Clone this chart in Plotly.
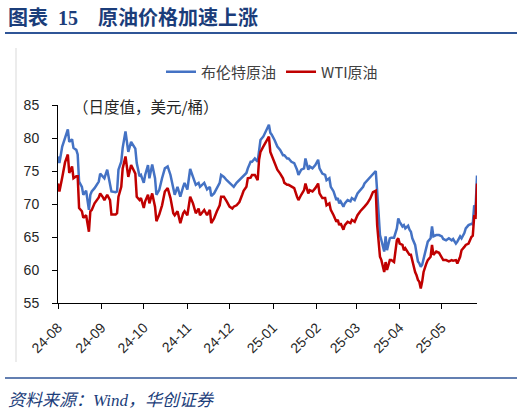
import plotly.graph_objects as go

# data (USD/bbl, daily)
dates = [
    "2024-08-19", "2024-08-20", "2024-08-22", "2024-08-24", "2024-08-26", "2024-08-27",
    "2024-08-29", "2024-08-30", "2024-09-01", "2024-09-02", "2024-09-03", "2024-09-05",
    "2024-09-06", "2024-09-08", "2024-09-10", "2024-09-11", "2024-09-12", "2024-09-14",
    "2024-09-17", "2024-09-18", "2024-09-20", "2024-09-21", "2024-09-23", "2024-09-25",
    "2024-09-26", "2024-09-29", "2024-09-30", "2024-10-01", "2024-10-03", "2024-10-04",
    "2024-10-06", "2024-10-08", "2024-10-10", "2024-10-13", "2024-10-14", "2024-10-16",
    "2024-10-17", "2024-10-19", "2024-10-20", "2024-10-22", "2024-10-23", "2024-10-25",
    "2024-10-27", "2024-10-28", "2024-10-30",
    "2024-11-01", "2024-11-03", "2024-11-05", "2024-11-07", "2024-11-09", "2024-11-10",
    "2024-11-12", "2024-11-14", "2024-11-16", "2024-11-17", "2024-11-19", "2024-11-21",
    "2024-11-23", "2024-11-25", "2024-11-27", "2024-11-28", "2024-12-01", "2024-12-03",
    "2024-12-05", "2024-12-06", "2024-12-08", "2024-12-10", "2024-12-12", "2024-12-13",
    "2024-12-15", "2024-12-17", "2024-12-19", "2024-12-21", "2024-12-22", "2024-12-24",
    "2024-12-26", "2024-12-28", "2024-12-29", "2024-12-31", "2025-01-01", "2025-01-03",
    "2025-01-04", "2025-01-06", "2025-01-08", "2025-01-09", "2025-01-10", "2025-01-12",
    "2025-01-14", "2025-01-16",
    "2025-01-17", "2025-01-18", "2025-01-20", "2025-01-22", "2025-01-24", "2025-01-26",
    "2025-01-27", "2025-01-29", "2025-01-30", "2025-02-01", "2025-02-03", "2025-02-05",
    "2025-02-06", "2025-02-08", "2025-02-10", "2025-02-11", "2025-02-13", "2025-02-14",
    "2025-02-16", "2025-02-18", "2025-02-20", "2025-02-21", "2025-02-23", "2025-02-25",
    "2025-02-26", "2025-02-28", "2025-03-01", "2025-03-03", "2025-03-05", "2025-03-06",
    "2025-03-07", "2025-03-08", "2025-03-10", "2025-03-11", "2025-03-13", "2025-03-15",
    "2025-03-16", "2025-03-18", "2025-03-20", "2025-03-22", "2025-03-24", "2025-03-25",
    "2025-03-27", "2025-03-29",
    "2025-03-31", "2025-04-02", "2025-04-03", "2025-04-05", "2025-04-06", "2025-04-08",
    "2025-04-09", "2025-04-10", "2025-04-12", "2025-04-13", "2025-04-15", "2025-04-17",
    "2025-04-18", "2025-04-19", "2025-04-21", "2025-04-22", "2025-04-23", "2025-04-25",
    "2025-04-26", "2025-04-27", "2025-04-28", "2025-04-30", "2025-05-01", "2025-05-02",
    "2025-05-03", "2025-05-04", "2025-05-05", "2025-05-06", "2025-05-08", "2025-05-09",
    "2025-05-11", "2025-05-12", "2025-05-13", "2025-05-15", "2025-05-17", "2025-05-19",
    "2025-05-20", "2025-05-22", "2025-05-24", "2025-05-26", "2025-05-27", "2025-05-29",
    "2025-05-30", "2025-06-01", "2025-06-02", "2025-06-04", "2025-06-05", "2025-06-07",
    "2025-06-09", "2025-06-10", "2025-06-11", "2025-06-12", "2025-06-13",
]

brent = [
    77.2, 76.2, 78.7, 79.9, 81.3, 79.4, 79.8, 78.5, 78.2, 77.5, 73.4, 72.6,
    71.4, 72.0, 69.1, 71.4, 71.9, 72.4, 73.4, 74.6, 74.1, 73.9, 75.2, 73.1,
    71.9, 71.8, 71.9, 75.2, 76.4, 78.5, 81.0, 77.9, 79.4, 78.4, 76.2, 74.2,
    74.4, 73.2, 74.4, 75.9, 73.9, 76.0, 73.9, 71.4, 72.1,
    73.9, 75.4, 75.7, 74.4, 72.4, 71.4, 72.6, 71.1, 72.6, 73.2, 72.2, 75.3,
    74.1, 72.9, 73.2, 72.6, 73.2, 72.2, 72.6, 71.2, 71.6, 72.4, 73.2, 74.4,
    74.1, 73.6, 73.2, 72.9, 72.6, 73.2, 73.6, 74.1, 74.3, 74.7, 75.4, 76.4,
    76.4, 76.9, 76.4, 78.2, 79.7, 80.2, 81.0, 82.0,
    80.8, 80.5, 79.7, 78.7, 78.2, 77.4, 77.4, 76.9, 76.9, 76.4, 76.2, 75.2,
    74.4, 75.2, 75.4, 76.9, 75.2, 75.7, 75.4, 75.9, 76.7, 75.4, 74.6, 74.4,
    73.6, 73.9, 72.6, 71.9, 70.6, 70.9, 70.1, 70.4, 69.6, 70.1, 70.6, 70.4,
    70.9, 70.6, 71.6, 72.1, 72.6, 73.1, 73.6, 74.1,
    74.6, 75.0, 71.9, 65.3, 64.5, 62.8, 65.1, 63.0, 64.8, 64.9, 64.9, 66.3,
    67.8, 67.3, 66.6, 66.8, 66.3, 66.7, 66.1, 65.8, 64.8, 63.8, 62.5, 61.3,
    61.0, 60.5, 60.8, 61.8, 63.3, 64.3, 64.8, 66.6, 65.1, 65.3, 65.3, 65.1,
    64.7, 64.5, 64.8, 64.5, 64.7, 64.0, 64.3, 65.1, 64.8, 65.6, 66.3, 66.8,
    67.0, 66.9, 69.8, 69.4, 74.3,
]

wti = [
    73.1, 71.9, 74.0, 76.3, 77.5, 74.7, 75.7, 73.9, 74.2, 74.2, 69.4, 68.9,
    67.9, 68.3, 65.8, 68.9, 69.1, 70.1, 71.0, 71.6, 71.0, 70.6, 71.4, 70.6,
    68.4, 68.4, 68.6, 71.1, 72.6, 75.4, 77.2, 74.1, 75.9, 74.6, 71.1, 70.6,
    70.9, 69.4, 70.4, 71.4, 70.1, 71.6, 69.6, 67.4, 68.4,
    69.8, 71.9, 72.4, 70.9, 68.6, 68.3, 68.9, 67.1, 68.6, 68.9, 68.3, 71.1,
    70.1, 68.6, 69.3, 68.3, 69.1, 68.3, 69.1, 67.1, 67.8, 68.9, 69.8, 71.1,
    71.1, 70.4, 69.6, 69.3, 69.6, 69.8, 70.3, 71.4, 72.0, 72.6, 73.9, 74.0,
    74.4, 74.4, 73.6, 76.7, 77.9, 78.7, 79.4, 80.2,
    77.9, 77.4, 76.4, 75.2, 74.6, 73.9, 73.2, 72.9, 72.9, 72.6, 72.4, 71.1,
    70.6, 71.4, 72.1, 73.1, 71.6, 72.1, 71.9, 72.4, 73.1, 71.6, 70.9, 70.9,
    69.8, 70.1, 69.1, 68.3, 67.3, 67.6, 66.8, 67.1, 66.1, 66.8, 67.3, 67.1,
    67.6, 67.3, 68.3, 68.9, 69.3, 69.6, 70.1, 70.8,
    71.8, 72.0, 66.8, 62.0, 61.5, 59.7, 61.2, 60.0, 61.5, 61.5, 61.2, 64.5,
    64.8, 64.0, 63.8, 63.0, 63.3, 62.7, 62.3, 62.3, 61.3, 59.7, 59.2, 58.5,
    58.2, 57.2, 58.2, 59.7, 61.0, 61.5, 62.0, 63.8, 62.3, 62.8, 62.6, 61.8,
    61.5, 61.5, 61.3, 61.5, 61.4, 61.5, 61.0, 62.0, 63.0, 63.5, 63.8, 64.0,
    65.0, 65.2, 68.1, 68.0, 73.1,
]

tick_dates = [
    "2024-08-19", "2024-09-19", "2024-10-19", "2024-11-19", "2024-12-19",
    "2025-01-19", "2025-02-19", "2025-03-19", "2025-04-19", "2025-05-19",
]
tick_labels = ["24-08", "24-09", "24-10", "24-11", "24-12",
               "25-01", "25-02", "25-03", "25-04", "25-05"]

W, H = 524, 413
L, R, T, B = 58, 47, 105, 110
pw, ph = W - L - R, H - T - B


# pixel -> paper helpers for the decoration
def px(x):
    return (x - L) / pw


def py(y):
    return (H - B - y) / ph


navy = "#1B3D7A"
cjk = "Noto Sans CJK SC"
serif = "Liberation Serif"

fig = go.Figure()

fig.add_trace(
    go.Scatter(
        x=dates, y=brent, name="布伦特原油", mode="lines",
        line=dict(color="#4472C4", width=2.5),
    )
)
fig.add_trace(
    go.Scatter(
        x=dates, y=wti, name="WTI原油", mode="lines",
        line=dict(color="#C00000", width=2.5),
    )
)

fig.update_xaxes(
    type="date",
    range=["2024-08-19", "2025-06-13"],
    tickvals=tick_dates,
    ticktext=tick_labels,
    tickangle=-45,
    ticks="outside",
    ticklen=5,
    tickcolor="#000000",
    showline=True,
    linecolor="#000000",
    linewidth=1,
    showgrid=False,
    zeroline=False,
    ticklabelstandoff=5,
    tickfont=dict(family="Liberation Sans", size=14, color="#262626"),
)
fig.update_yaxes(
    range=[55, 85],
    dtick=5,
    ticks="outside",
    ticklen=5,
    tickcolor="#000000",
    showline=True,
    linecolor="#000000",
    linewidth=1,
    showgrid=False,
    zeroline=False,
    ticklabelstandoff=10,
    tickfont=dict(family="Liberation Sans", size=14, color="#262626"),
)

# title, unit note and source
fig.add_annotation(
    text=(f"<b>图表\u2002<span style='font-family:{serif}'>15</span>"
          "\u3000原油价格加速上涨</b>"),
    xref="paper", yref="paper", x=px(6), y=py(16),
    xanchor="left", yanchor="middle", showarrow=False,
    font=dict(family=cjk, size=20, color=navy),
)
fig.add_annotation(
    text="（日度值，美元/桶）",
    xref="paper", yref="paper", x=px(71), y=py(106),
    xanchor="left", yanchor="middle", showarrow=False,
    font=dict(family=cjk, size=15.5, color="#262626"),
)
fig.add_annotation(
    text=(f"<i>资料来源：<span style='font-family:{serif}'>Wind</span>"
          "，华创证券</i>"),
    xref="paper", yref="paper", x=px(6), y=py(398),
    xanchor="left", yanchor="middle", showarrow=False,
    font=dict(family=cjk, size=17, color=navy),
)

fig.add_shape(type="line", xref="paper", yref="paper",
              x0=px(5), x1=px(517), y0=py(33), y1=py(33),
              line=dict(color="#2F5597", width=2))
fig.add_shape(type="line", xref="paper", yref="paper",
              x0=px(5), x1=px(517), y0=py(378), y1=py(378),
              line=dict(color="#2F5597", width=1.5))
fig.add_shape(type="line", xref="paper", yref="paper",
              x0=px(16), x1=px(16), y0=py(362), y1=py(48),
              line=dict(color="#D9D9D9", width=1))

fig.update_layout(
    width=W,
    height=H,
    margin=dict(l=L, r=R, t=T, b=B),
    paper_bgcolor="white",
    plot_bgcolor="white",
    showlegend=True,
    legend=dict(
        orientation="h",
        x=px(272), y=py(72),
        xanchor="center", yanchor="middle",
        font=dict(family=cjk, size=15, color="#404040"),
        itemwidth=30,
        bgcolor="rgba(0,0,0,0)",
    ),
)

# the page body has a default 8px margin; drop it so the figure sits at 0,0
fig.write_html(
    "out.html",
    config={"displayModeBar": False},
    post_script="document.body.style.margin='0';",
)
